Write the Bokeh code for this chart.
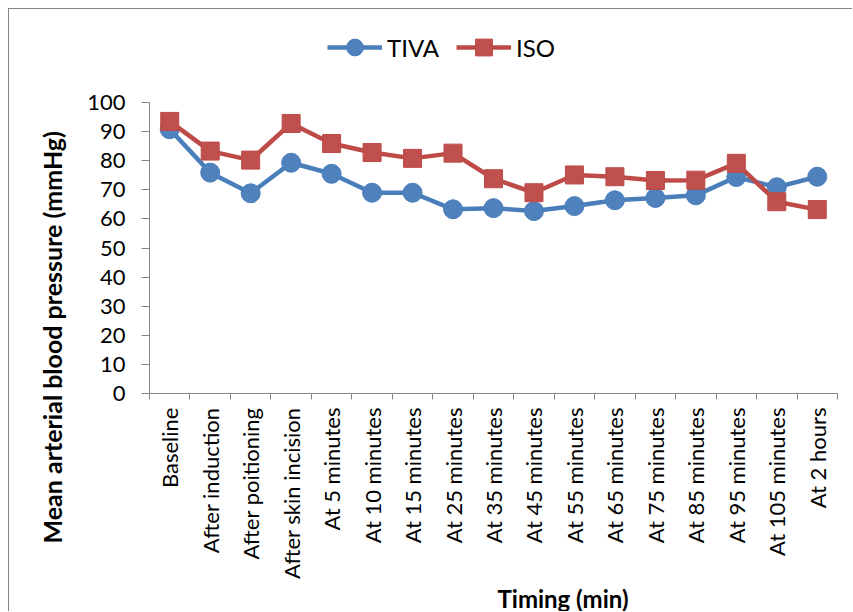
import numpy as np
from math import pi
from bokeh.plotting import figure
from bokeh.models import (Range1d, FixedTicker, Legend, LegendItem, Title,
                          LinearAxis, ColumnDataSource)
from bokeh.embed import file_html
from bokeh.resources import INLINE

categories = ["Baseline", "After induction", "After poitioning", "After skin incision",
              "At 5 minutes", "At 10 minutes", "At 15 minutes", "At 25 minutes",
              "At 35 minutes", "At 45 minutes", "At 55 minutes", "At 65 minutes",
              "At 75 minutes", "At 85 minutes", "At 95 minutes", "At 105 minutes",
              "At 2 hours"]
tiva = [90.8, 75.9, 68.8, 79.3, 75.5, 69.0, 69.0, 63.3, 63.7, 62.7, 64.4, 66.4,
        67.2, 68.1, 74.4, 70.9, 74.5]
iso = [93.5, 83.3, 80.2, 92.8, 85.9, 82.8, 80.8, 82.6, 73.8, 69.0, 75.1, 74.5,
       73.2, 73.3, 79.1, 65.9, 63.2]
y_ticks = list(range(0, 101, 10))
y_min, y_max = 0, 100

FONT = "Lato"
AXIS_COLOR = "#868686"
BLUE_LINE, BLUE_FILL = "#4A7EBB", "#4F81BD"
RED_LINE, RED_FILL = "#BE4B48", "#C0504D"

# layout (pixels inside the figure)
FIG_W, FIG_H = 844, 603
FRAME_TOP = 0          # frame extends to the top so the legend sits inside it
AXIS_TOP = 93          # where the value 100 sits
FRAME_BOTTOM = 384
head = (FRAME_BOTTOM - FRAME_TOP) / (FRAME_BOTTOM - AXIS_TOP)

n = len(categories)
xpos = list(np.arange(n) + 0.5)
src = ColumnDataSource(dict(x=xpos, tiva=tiva, iso=iso))

p = figure(width=FIG_W, height=FIG_H, output_backend="svg", toolbar_location=None,
           x_range=Range1d(0, n), y_range=Range1d(y_min, y_min + (y_max - y_min) * head),
           x_axis_type=None, y_axis_type=None,
           min_border_left=140, min_border_right=16, min_border_top=FRAME_TOP,
           min_border_bottom=FIG_H - FRAME_BOTTOM)
p.outline_line_color = None
p.background_fill_color = "white"
p.border_fill_color = "white"
p.styles = {"margin-left": "8px", "margin-top": "8px",
            "border-left": "1px solid #868686", "border-top": "1px solid #868686"}

xaxis = LinearAxis(ticker=FixedTicker(ticks=xpos, minor_ticks=list(range(n + 1))),
                   major_label_overrides={float(x): c for x, c in zip(xpos, categories)})
xaxis.major_tick_line_color = None
xaxis.minor_tick_out = 6
xaxis.minor_tick_in = 0
xaxis.minor_tick_line_color = AXIS_COLOR
xaxis.axis_line_color = AXIS_COLOR
xaxis.major_label_orientation = pi / 2
xaxis.major_label_standoff = 8
xaxis.major_label_text_font = FONT
xaxis.major_label_text_font_size = "22px"
xaxis.major_label_text_color = "black"
p.add_layout(xaxis, "below")

yaxis = LinearAxis(ticker=FixedTicker(ticks=y_ticks), bounds=(y_min, y_max))
yaxis.major_tick_out = 8
yaxis.major_tick_in = 0
yaxis.minor_tick_line_color = None
yaxis.major_tick_line_color = AXIS_COLOR
yaxis.axis_line_color = AXIS_COLOR
yaxis.major_label_standoff = 16
yaxis.major_label_text_font = FONT
yaxis.major_label_text_font_size = "22px"
yaxis.major_label_text_color = "black"
p.add_layout(yaxis, "left")

l1 = p.line("x", "tiva", source=src, line_color=BLUE_LINE, line_width=4.5)
s1 = p.scatter("x", "tiva", source=src, marker="circle", size=19,
               fill_color=BLUE_FILL, line_color=BLUE_LINE)
l2 = p.line("x", "iso", source=src, line_color=RED_LINE, line_width=4.5)
s2 = p.scatter("x", "iso", source=src, marker="square", size=18,
               fill_color=RED_FILL, line_color=RED_LINE)

legend = Legend(items=[LegendItem(label="TIVA", renderers=[l1, s1]),
                       LegendItem(label="ISO", renderers=[l2, s2])],
                orientation="horizontal", location=(178, 325))
legend.glyph_width = 55
legend.glyph_height = 42
legend.label_standoff = 5
legend.spacing = 17
legend.padding = 0
legend.margin = 0
legend.border_line_color = None
legend.background_fill_alpha = 0
legend.label_text_font = FONT
legend.label_text_font_size = "24px"
legend.label_text_color = "black"
p.add_layout(legend, "center")

ytitle = Title(text="Mean arterial blood pressure (mmHg)", align="left", offset=-150,
               standoff=36, text_font=FONT, text_font_style="bold",
               text_font_size="25px", text_color="black")
p.add_layout(ytitle, "left")

xtitle = Title(text="Timing (min)", align="left", offset=348, standoff=0,
               text_font=FONT, text_font_style="bold", text_font_size="24px",
               text_color="black")
p.add_layout(xtitle, "below")

open("out.html", "w").write(file_html(p, INLINE))
